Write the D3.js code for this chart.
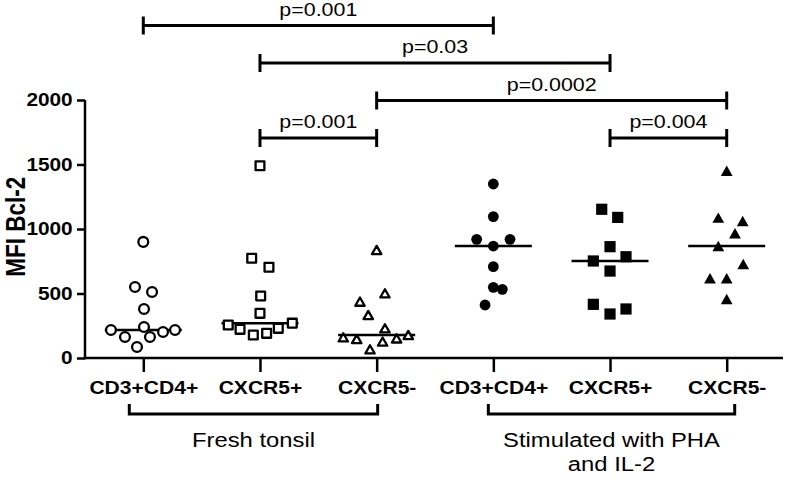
<!DOCTYPE html>
<html>
<head>
<meta charset="utf-8">
<script src="https://cdn.jsdelivr.net/npm/d3@7"></script>
<style>
  html, body { margin: 0; padding: 0; background: #fff; }
  svg { display: block; font-family: "Liberation Sans", Arial, sans-serif; }
</style>
</head>
<body>
<svg id="chart" width="788" height="480"></svg>
<script>
// ---------- data ----------
const categories = ["CD3+CD4+", "CXCR5+", "CXCR5-", "CD3+CD4+", "CXCR5+", "CXCR5-"];
const yTicks = [0, 500, 1000, 1500, 2000];
const yTitle = "MFI Bcl-2";

const freshCD4      = [217, 163, 85, 550, 900, 512, 380, 240, 163, 202, 217];
const freshCXCR5pos = [1490, 773, 703, 481, 346, 256, 222, 178, 191, 230, 270];
const freshCXCR5neg = [837, 501, 437, 333, 230, 160, 147, 127, 152, 178, 67];
const stimCD4       = [1349, 1096, 920, 920, 868, 708, 548, 532, 411];
const stimCXCR5pos  = [1153, 1090, 863, 752, 785, 674, 416, 341, 380];
const stimCXCR5neg  = [1452, 1088, 1062, 967, 868, 729, 618, 618, 457];

// horizontal scatter spread, as a fraction of the category spacing
const jitterFreshCD4      = [-0.277, -0.157, -0.054, -0.071, 0, 0.075, 0.006, 0.006, 0.057, 0.169, 0.272];
const jitterFreshCXCR5pos = [0, -0.071, 0.077, 0.006, 0, -0.272, -0.171, -0.057, 0.057, 0.157, 0.277];
const jitterFreshCXCR5neg = [0, 0.071, -0.143, -0.072, 0.071, -0.286, -0.171, 0.051, 0.171, 0.271, -0.057];
const jitterStimCD4       = [0, 0, -0.143, 0.143, 0, 0, 0, 0.077, -0.071];
const jitterStimCXCR5pos  = [-0.071, 0.066, 0, -0.143, 0.137, 0, -0.143, 0, 0.137];
const jitterStimCXCR5neg  = [0, -0.072, 0.137, 0.071, -0.072, 0.142, -0.143, 0, 0];

const groupLabels = [["Fresh tonsil"], ["Stimulated with PHA", "and IL-2"]];
const groupSpans = [[0, 2], [3, 5]];

const comparisons = [[0, 3], [1, 4], [2, 5], [1, 2], [4, 5]];
const pValues = ["p=0.001", "p=0.03", "p=0.0002", "p=0.001", "p=0.004"];
const comparisonLevel = [3, 2, 1, 0, 0];

// ---------- layout ----------
const SX = 1.19;            // horizontal text stretch of the original figure
const axisX = 85, axisY = 358, axisRight = 783;
const svg = d3.select("#chart");

const x = d3.scalePoint().domain(d3.range(categories.length)).range([143.3, 726.7]);
const y = d3.scaleLinear().domain([0, 2000]).range([axisY, 100]);
const step = x.step();

const series = [
  { values: freshCD4,      jitter: jitterFreshCD4,      shape: "circle",   filled: false },
  { values: freshCXCR5pos, jitter: jitterFreshCXCR5pos, shape: "square",   filled: false },
  { values: freshCXCR5neg, jitter: jitterFreshCXCR5neg, shape: "triangle", filled: false },
  { values: stimCD4,       jitter: jitterStimCD4,       shape: "circle",   filled: true },
  { values: stimCXCR5pos,  jitter: jitterStimCXCR5pos,  shape: "square",   filled: true },
  { values: stimCXCR5neg,  jitter: jitterStimCXCR5neg,  shape: "triangle", filled: true }
];

// ---------- axes ----------
const yAxis = d3.axisLeft(y).tickValues(yTicks).tickFormat(d3.format("d"))
  .tickSize(8).tickSizeOuter(0).tickPadding(4);
const gy = svg.append("g").attr("transform", `translate(${axisX},0)`).call(yAxis);
gy.select(".domain").remove();
gy.selectAll(".tick line").attr("stroke", "#000").attr("stroke-width", 2.5);
gy.selectAll(".tick text")
  .attr("x", null).attr("dy", null)
  .attr("transform", `translate(-12.3,0) scale(${SX},1)`)
  .attr("dominant-baseline", "central")
  .attr("font-size", 17.5).attr("font-weight", "bold")
  .attr("font-family", '"Liberation Sans", Arial, sans-serif')
  .attr("fill", "#000");

const xAxis = d3.axisBottom(x).tickSize(14).tickSizeOuter(0).tickFormat(i => categories[i]);
const gx = svg.append("g").attr("transform", `translate(0,${axisY})`).call(xAxis);
gx.select(".domain").remove();
gx.selectAll(".tick line").attr("stroke", "#000").attr("stroke-width", 2.5);
gx.selectAll(".tick text")
  .attr("y", null).attr("dy", null)
  .attr("transform", `translate(0,36) scale(${SX},1)`)
  .attr("font-size", 17.7).attr("font-weight", "bold")
  .attr("font-family", '"Liberation Sans", Arial, sans-serif')
  .attr("fill", "#000");

// axis lines
svg.append("line").attr("x1", axisX).attr("x2", axisX).attr("y1", y(2000)).attr("y2", axisY + 1.25)
  .attr("stroke", "#000").attr("stroke-width", 2.5);
svg.append("line").attr("x1", axisX).attr("x2", axisRight).attr("y1", axisY).attr("y2", axisY)
  .attr("stroke", "#000").attr("stroke-width", 2.5);

// y title
svg.append("text")
  .attr("transform", `translate(24.5,226.7) scale(${SX},1) rotate(-90)`)
  .attr("text-anchor", "middle")
  .attr("font-size", 22.5).attr("font-weight", "bold")
  .text(yTitle);

// ---------- medians ----------
const medHalf = 0.33 * step;
series.forEach((s, i) => {
  const m = d3.median(s.values);
  svg.append("line")
    .attr("x1", x(i) - medHalf).attr("x2", x(i) + medHalf)
    .attr("y1", y(m)).attr("y2", y(m))
    .attr("stroke", "#000").attr("stroke-width", 2.5);
});

// ---------- points ----------
function symbolPath(shape, filled) {
  if (shape === "circle") {
    const r = filled ? 5.4 : 4.9;
    return `M${-r},0A${r},${r} 0 1,0 ${r},0A${r},${r} 0 1,0 ${-r},0Z`;
  }
  if (shape === "square") {
    const h = filled ? 5.6 : 4.4;
    return `M${-h},${-h}H${h}V${h}H${-h}Z`;
  }
  // triangle, bounding box centred on the point
  const w = filled ? 5.9 : 4.7, hh = filled ? 5.2 : 4.1;
  return `M0,${-hh}L${w},${hh}L${-w},${hh}Z`;
}

series.forEach((s, i) => {
  svg.append("g").selectAll("path")
    .data(s.values.map((v, j) => ({ v, j: s.jitter[j] })))
    .join("path")
    .attr("transform", d => `translate(${x(i) + d.j * step},${y(d.v)})`)
    .attr("d", symbolPath(s.shape, s.filled))
    .attr("fill", s.filled ? "#000" : "#fff")
    .attr("stroke", s.filled ? "none" : "#000")
    .attr("stroke-width", 2.3)
    .attr("stroke-linejoin", "round");
});

// ---------- significance brackets ----------
const levelY = [138, 100.5, 63, 25.5];
const capH = 9;
comparisons.forEach(([a, b], k) => {
  const yy = levelY[comparisonLevel[k]];
  const g = svg.append("g").attr("stroke", "#000").attr("stroke-width", 3);
  g.append("line").attr("x1", x(a)).attr("x2", x(b)).attr("y1", yy).attr("y2", yy);
  g.append("line").attr("x1", x(a)).attr("x2", x(a)).attr("y1", yy - capH).attr("y2", yy + capH);
  g.append("line").attr("x1", x(b)).attr("x2", x(b)).attr("y1", yy - capH).attr("y2", yy + capH);
  svg.append("text")
    .attr("transform", `translate(${(x(a) + x(b)) / 2},${yy - 10}) scale(${SX},1)`)
    .attr("text-anchor", "middle")
    .attr("font-size", 18)
    .text(pValues[k]);
});

// ---------- group brackets ----------
const spanPad = [[-14, 1], [-5, 8]];
const grpY = 414, grpCap = 10;
groupSpans.forEach(([a, b], k) => {
  const x1 = x(a) + spanPad[k][0], x2 = x(b) + spanPad[k][1];
  svg.append("path")
    .attr("d", `M${x1},${grpY - grpCap}V${grpY}H${x2}V${grpY - grpCap}`)
    .attr("fill", "none").attr("stroke", "#000").attr("stroke-width", 3);
  const t = svg.append("text")
    .attr("transform", `translate(${(x1 + x2) / 2},447) scale(${SX},1)`)
    .attr("text-anchor", "middle")
    .attr("font-size", 20);
  groupLabels[k].forEach((line, li) => {
    t.append("tspan").attr("x", 0).attr("y", li * 24).text(line);
  });
});
</script>
</body>
</html>
